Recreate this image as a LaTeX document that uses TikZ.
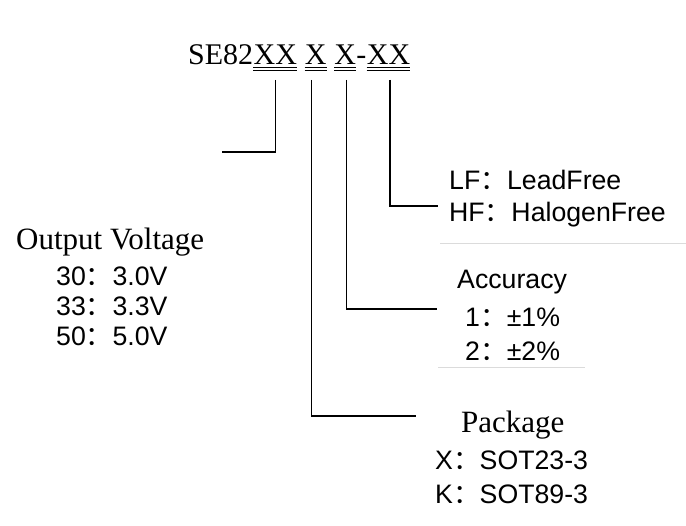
\documentclass[tikz,border=0pt]{standalone}
\usepackage{fontspec}
\setmainfont{Liberation Serif}
\newfontfamily\arialf{Liberation Sans}
\newfontfamily\cjkf{Noto Sans CJK SC}
\newcommand\fwc{{\cjkf ：}}
\begin{document}
\begin{tikzpicture}[x=1pt,y=-1pt,
  tt/.style={anchor=base west,inner sep=0pt,font=\fontsize{30}{36}\selectfont},
  tb/.style={anchor=base west,inner sep=0pt,font=\fontsize{31}{37}\selectfont},
  ss/.style={anchor=base west,inner sep=0pt,font=\arialf\fontsize{26.7}{32}\selectfont},
  conn/.style={line width=1.3pt,line join=miter},
  uline/.style={line width=0.9pt},
  faint/.style={line width=0.8pt,black!14}]
\fill[white] (0,0) rectangle (686,526);
\useasboundingbox (0,0) rectangle (686,526);
% faint panel edges
\draw[faint] (440,243) -- (686,243);
\draw[faint] (438,367) -- (585,367);
% title
\node[tt] (se) at (188,65) {SE82};
\node[tt] (p1) at (se.base east) {XX};
\node[tt] (p2) at ([xshift=7.5pt]p1.base east) {X};
\node[tt] (p3) at ([xshift=7.5pt]p2.base east) {X};
\node[tt] (dash) at (p3.base east) {-};
\node[tt] (p4) at (dash.base east) {XX};
\foreach \p in {p1,p2,p3,p4}{
  \draw[uline] ([yshift=-2.5pt]\p.base west) -- ([yshift=-2.5pt]\p.base east);
  \draw[uline] ([yshift=-5.5pt]\p.base west) -- ([yshift=-5.5pt]\p.base east);
}
% output voltage block
\node[tb] (ov) at (16,250) {Output Voltage};
\node[ss] (ov1) at (56,286) {30\fwc 3.0V};
\node[ss] (ov2) at (56,316) {33\fwc 3.3V};
\node[ss] (ov3) at (56,346) {50\fwc 5.0V};
% lead free block
\node[ss] (lf1) at (449,190) {LF\fwc LeadFree};
\node[ss] (lf2) at (449,222) {HF\fwc HalogenFree};
% accuracy block
\node[ss] (ac) at (457,289) {Accuracy};
\node[ss] (ac1) at (465,327) {1\fwc ±1\%};
\node[ss] (ac2) at (465,361) {2\fwc ±2\%};
% package block
\node[tb] (pk) at (461,433) {Package};
\node[ss] (pk1) at (435,470) {X\fwc SOT23-3};
\node[ss] (pk2) at (435,504) {K\fwc SOT89-3};
% connector ends
\coordinate (e1) at (222,152);
\coordinate (e2) at (416,416);
\coordinate (e3) at (437,309);
\coordinate (e4) at (438,206);
% connectors
\draw[conn] (p1.base |- 0,80) -- (p1.base |- e1) -- (e1);
\draw[conn] ([xshift=-4pt]p2.base |- 0,80) |- (e2);
\draw[conn] ([xshift=1.5pt]p3.base |- 0,80) |- (e3);
\draw[conn] ([xshift=1.5pt]p4.base |- 0,80) |- (e4);
\end{tikzpicture}
\end{document}
